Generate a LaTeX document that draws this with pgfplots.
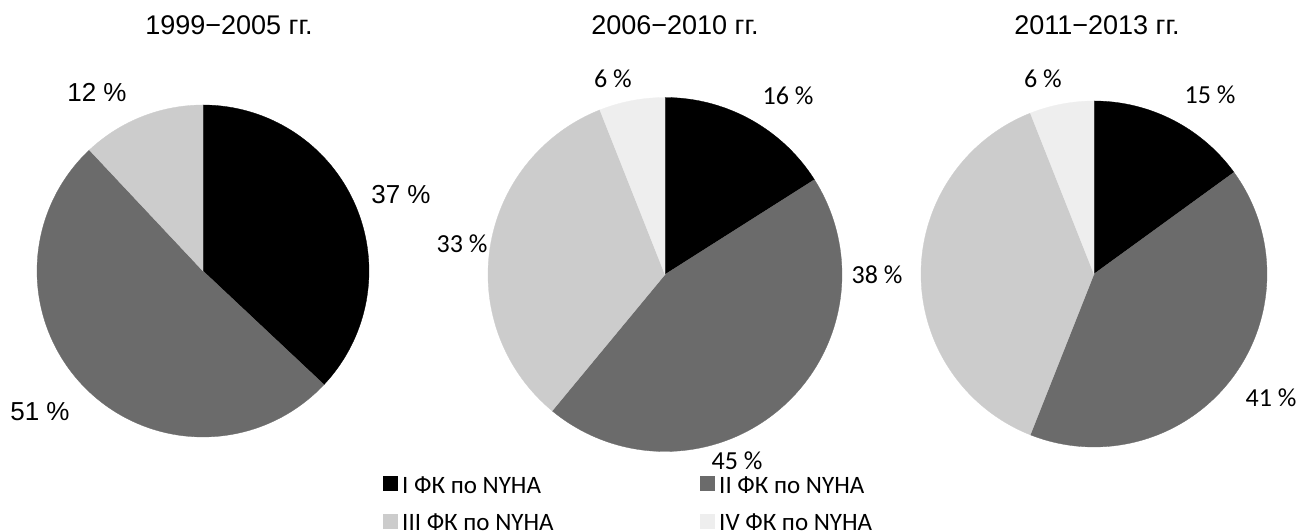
\documentclass[border=0pt]{standalone}
\usepackage{pgfplots}
\pgfplotsset{compat=1.18}
\usepackage{fontspec}
\setmainfont{Liberation Sans}
\newfontfamily\calfont{Carlito}
\definecolor{cI}{HTML}{000000}
\definecolor{cII}{HTML}{6B6B6B}
\definecolor{cIII}{HTML}{CCCCCC}
\definecolor{cIV}{HTML}{EEEEEE}
% pie 1999-2005: 37, 51, 12
\pgfmathsetmacro\pAa{90-3.6*37}
\pgfmathsetmacro\pAb{\pAa-3.6*51}
\pgfmathsetmacro\pAc{\pAb-3.6*12}
% pie 2006-2010: 16, 45, 33, 6
\pgfmathsetmacro\pBa{90-3.6*16}
\pgfmathsetmacro\pBb{\pBa-3.6*45}
\pgfmathsetmacro\pBc{\pBb-3.6*33}
\pgfmathsetmacro\pBd{\pBc-3.6*6}
% pie 2011-2013: 15, 41, 38, 6
\pgfmathsetmacro\pCa{90-3.6*15}
\pgfmathsetmacro\pCb{\pCa-3.6*41}
\pgfmathsetmacro\pCc{\pCb-3.6*38}
\pgfmathsetmacro\pCd{\pCc-3.6*6}
% slice: cx, cy, r, from angle, to angle (from<to), colour
\newcommand{\pieslice}[6]{%
  \addplot[draw=#6, fill=#6, line width=0.3pt, domain=#4:#5, samples=90, variable=\t]
    ({#1+#3*cos(\t)}, {#2+#3*sin(\t)}) -- (axis cs:#1,#2) -- cycle;
}
\tikzset{ttl/.style={inner sep=1pt, font=\fontsize{27}{32}\selectfont},
  lA/.style={inner sep=1pt, font=\fontsize{26}{31}\selectfont},
  lB/.style={inner sep=1pt, font=\calfont\fontsize{26}{31}\selectfont},
  lg/.style={anchor=west, inner sep=1pt, font=\calfont\fontsize{25}{30}\selectfont}}
\begin{document}
\begin{tikzpicture}
\begin{axis}[width=1299pt, height=532pt, scale only axis,
  xmin=0, xmax=1299, ymin=0, ymax=532, hide axis, clip=false]
% pie 1
\pieslice{203}{261}{166}{\pAa}{90}{cI}
\pieslice{203}{261}{166}{\pAb}{\pAa}{cII}
\pieslice{203}{261}{166}{\pAc}{\pAb}{cIII}
% pie 2
\pieslice{665}{257.5}{177}{\pBa}{90}{cI}
\pieslice{665}{257.5}{177}{\pBb}{\pBa}{cII}
\pieslice{665}{257.5}{177}{\pBc}{\pBb}{cIII}
\pieslice{665}{257.5}{177}{\pBd}{\pBc}{cIV}
% pie 3
\pieslice{1094}{258}{173}{\pCa}{90}{cI}
\pieslice{1094}{258}{173}{\pCb}{\pCa}{cII}
\pieslice{1094}{258}{173}{\pCc}{\pCb}{cIII}
\pieslice{1094}{258}{173}{\pCd}{\pCc}{cIV}
% titles
\node[ttl] at (axis cs:229,507) {1999−2005 гг.};
\node[ttl] at (axis cs:675,507) {2006−2010 гг.};
\node[ttl] at (axis cs:1097,507) {2011−2013 гг.};
% labels pie 1
\node[lA] at (axis cs:97,439) {12 \%};
\node[lA] at (axis cs:401,337) {37 \%};
\node[lA] at (axis cs:40,120) {51 \%};
% labels pie 2
\node[lB] at (axis cs:613,453) {6 \%};
\node[lB] at (axis cs:788,436) {16 \%};
\node[lB] at (axis cs:462,288) {33 \%};
\node[lB] at (axis cs:737,71) {45 \%};
% labels pie 3
\node[lB] at (axis cs:877,257) {38 \%};
\node[lB] at (axis cs:1043,453) {6 \%};
\node[lB] at (axis cs:1210,437) {15 \%};
\node[lB] at (axis cs:1271,134) {41 \%};
% legend
\fill[cI] (axis cs:383,40.5) rectangle (axis cs:398,55.5);
\node[lg] at (axis cs:401,47) {I ФК по NYHA};
\fill[cII] (axis cs:700,40.5) rectangle (axis cs:715,55.5);
\node[lg] at (axis cs:718,47) {II ФК по NYHA};
\fill[cIII] (axis cs:383,2.5) rectangle (axis cs:398,17.5);
\node[lg] at (axis cs:401,10) {III ФК по NYHA};
\fill[cIV] (axis cs:700,2.5) rectangle (axis cs:715,17.5);
\node[lg] at (axis cs:718,10) {IV ФК по NYHA};
\end{axis}
\pgfresetboundingbox
\path (current axis.south west) rectangle (current axis.north east);
\end{tikzpicture}
\end{document}
